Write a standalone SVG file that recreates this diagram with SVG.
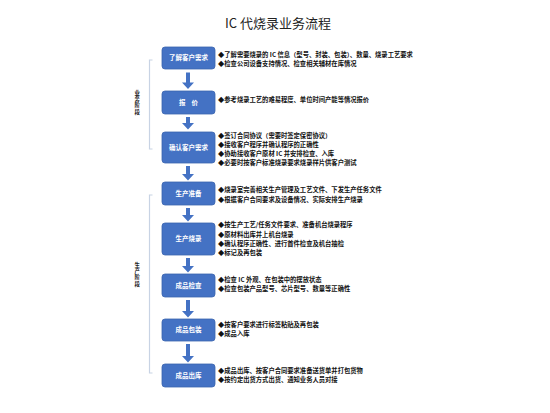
<svg xmlns="http://www.w3.org/2000/svg" width="550" height="413" viewBox="0 0 550 413">
<defs>
<style>
.box{fill:#4472C4;stroke:#3B64AE;stroke-width:0.8}
.bl{fill:#fff;font-family:"Noto Sans CJK SC","Noto Sans",sans-serif;font-size:6.5px;font-weight:bold;text-anchor:middle}
.t{fill:#111;font-family:"Noto Sans CJK SC","Noto Sans",sans-serif;font-size:6.3px;font-weight:bold}
.side{fill:#222;font-family:"Noto Sans CJK SC",sans-serif;font-size:5.4px;font-weight:bold;writing-mode:vertical-rl;letter-spacing:0.9px}
.arr{fill:#4472C4}
.br{fill:none;stroke:#C8D3E4;stroke-width:1.2}
</style>
</defs>
<rect width="550" height="413" fill="#fff"/>
<text x="278" y="28" font-family="'Noto Sans CJK SC','Noto Sans',sans-serif" font-size="13" text-anchor="middle" fill="#222">IC 代烧录业务流程</text>

<g id="phases">
<path class="br" d="M152.5,60 H149.5 V149 H152.5"/>
<path class="br" d="M152.5,195 H149.5 V373 H152.5"/>
<text class="side" x="137.3" y="90">业务阶段</text>
<text class="side" x="137.3" y="262">生产阶段</text>
</g>

<g id="connectors">
<path class="arr" d="M186,72.5 h4 v10 h4 l-6,6.5 l-6,-6.5 h4 z"/>
<path class="arr" d="M186,117 h4 v6 h4 l-6,6.5 l-6,-6.5 h4 z"/>
<path class="arr" d="M186,166 h4 v8 h4 l-6,6.5 l-6,-6.5 h4 z"/>
<path class="arr" d="M186,208 h4 v7 h4 l-6,6.5 l-6,-6.5 h4 z"/>
<path class="arr" d="M186,258 h4 v8 h4 l-6,6.5 l-6,-6.5 h4 z"/>
<path class="arr" d="M186,300 h4 v11 h4 l-6,6.5 l-6,-6.5 h4 z"/>
<path class="arr" d="M186,344 h4 v12 h4 l-6,6.5 l-6,-6.5 h4 z"/>
</g>

<g id="n1">
<rect class="box" x="162" y="47" width="53" height="22" rx="3"/>
<text class="bl" x="188.5" y="60.3">了解客户需求</text>
<text class="t" x="218" y="57">◆了解需要烧录的 IC 信息（型号、封装、包装）、数量、烧录工艺要求</text>
<text class="t" x="218" y="66.2">◆检查公司设备支持情况、检查相关辅材在库情况</text>
</g>
<g id="n2">
<rect class="box" x="162" y="91" width="53" height="23" rx="3"/>
<text class="bl" x="188.5" y="104.8" xml:space="preserve">报    价</text>
<text class="t" x="218" y="102.3">◆参考烧录工艺的难易程度、单位时间产能等情况报价</text>
</g>
<g id="n3">
<rect class="box" x="162" y="132" width="53" height="31" rx="3"/>
<text class="bl" x="188.5" y="149.8">确认客户需求</text>
<text class="t" x="218" y="138.3">◆签订合同协议（需要时签定保密协议）</text>
<text class="t" x="218" y="147">◆接收客户程序并确认程序的正确性</text>
<text class="t" x="218" y="156">◆协助接收客户原材 IC 并安排检查、入库</text>
<text class="t" x="218" y="164.6">◆必要时按客户标准烧录要求烧录样片供客户测试</text>
</g>
<g id="n4">
<rect class="box" x="162" y="182" width="53" height="23" rx="3"/>
<text class="bl" x="188.5" y="195.8">生产准备</text>
<text class="t" x="218" y="192.3">◆烧录室完善相关生产管理及工艺文件、下发生产任务文件</text>
<text class="t" x="218" y="201.6">◆根据客户合同要求及设备情况、实际安排生产烧录</text>
</g>
<g id="n5">
<rect class="box" x="162" y="223" width="53" height="32" rx="3"/>
<text class="bl" x="188.5" y="241.3">生产烧录</text>
<text class="t" x="218" y="227.3">◆按生产工艺/任务文件要求、准备机台烧录程序</text>
<text class="t" x="218" y="236.6">◆原材料出库并上机台烧录</text>
<text class="t" x="218" y="246">◆确认程序正确性、进行首件检查及机台抽检</text>
<text class="t" x="218" y="255">◆标记及再包装</text>
</g>
<g id="n6">
<rect class="box" x="162" y="274" width="53" height="23" rx="3"/>
<text class="bl" x="188.5" y="287.8">成品检查</text>
<text class="t" x="218" y="282">◆检查 IC 外观、在包装中的摆放状态</text>
<text class="t" x="218" y="291">◆检查包装产品型号、芯片型号、数量等正确性</text>
</g>
<g id="n7">
<rect class="box" x="162" y="319" width="53" height="22" rx="3"/>
<text class="bl" x="188.5" y="332.3">成品包装</text>
<text class="t" x="218" y="327.3">◆按客户要求进行标签粘贴及再包装</text>
<text class="t" x="218" y="336.3">◆成品入库</text>
</g>
<g id="n8">
<rect class="box" x="162" y="364" width="53" height="23" rx="3"/>
<text class="bl" x="188.5" y="377.8">成品出库</text>
<text class="t" x="218" y="373">◆成品出库、按客户合同要求准备送货单并打包货物</text>
<text class="t" x="218" y="381.6">◆按约定出货方式出货、通知业务人员对接</text>
</g>
</svg>
